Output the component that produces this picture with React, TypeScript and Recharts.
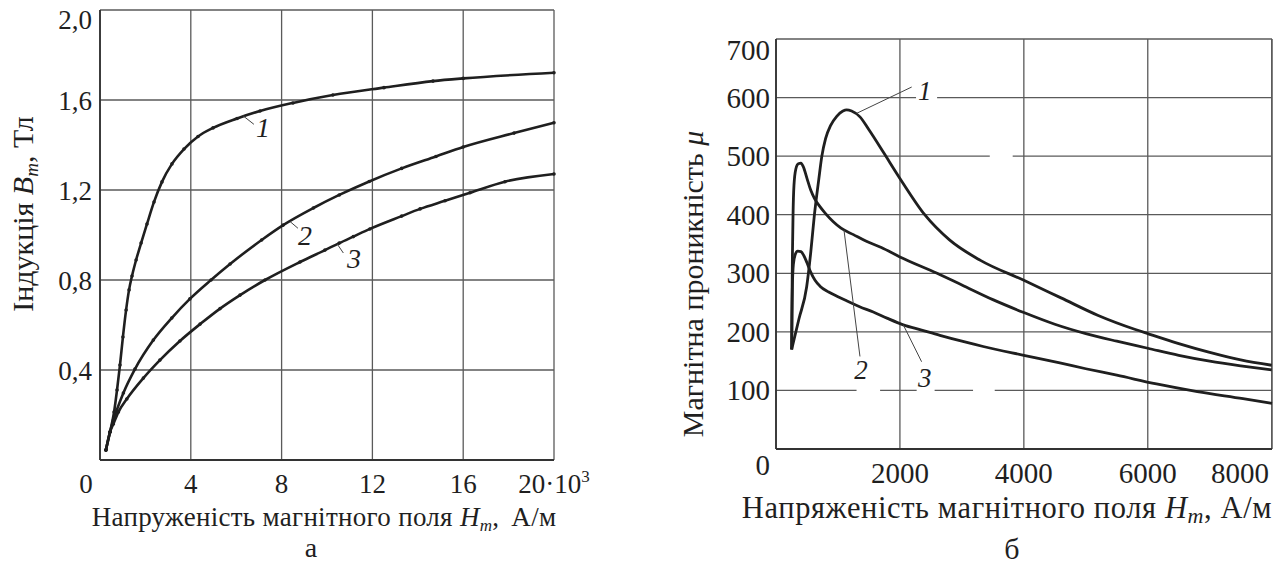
import {
  LineChart,
  Line,
  XAxis,
  YAxis,
  CartesianGrid,
  ReferenceLine,
  ReferenceArea,
  ReferenceDot,
} from "recharts";

const FONT = "Liberation Serif, DejaVu Serif, serif";
const INK = "#1f1f1f";
const GRID = "#5a5a5a";

// chart а: induction B (Тл) against field H (10^3 А/м)
const hA1 = [0.26, 0.44, 0.62, 0.75, 0.88, 1.01, 1.15, 1.28, 1.41, 1.59, 1.81, 2.07, 2.38, 2.73, 3.17, 3.7, 4.32, 4.98, 6.04, 7.05, 8.5, 10.26, 12.51, 14.67, 16.0, 20.0];
const bA1 = [0.044, 0.124, 0.213, 0.311, 0.422, 0.547, 0.667, 0.756, 0.818, 0.889, 0.964, 1.049, 1.147, 1.236, 1.316, 1.382, 1.438, 1.476, 1.518, 1.551, 1.587, 1.622, 1.655, 1.684, 1.696, 1.721];

const hA2 = [0.26, 0.44, 0.59, 0.74, 1.03, 1.54, 2.35, 3.16, 3.96, 4.89, 5.73, 7.12, 8.07, 9.4, 10.54, 11.86, 13.29, 14.8, 16.0, 18.24, 20.0];
const bA2 = [0.044, 0.124, 0.178, 0.222, 0.298, 0.404, 0.533, 0.631, 0.716, 0.8, 0.871, 0.978, 1.044, 1.12, 1.178, 1.238, 1.296, 1.349, 1.391, 1.453, 1.499];

const hA3 = [0.26, 0.44, 0.59, 0.81, 1.18, 1.91, 2.64, 3.52, 4.41, 5.29, 6.17, 7.27, 8.81, 9.91, 10.54, 11.16, 11.89, 13.29, 14.1, 15.2, 16.3, 17.84, 20.0];
const bA3 = [0.044, 0.124, 0.16, 0.213, 0.271, 0.364, 0.444, 0.529, 0.604, 0.673, 0.733, 0.8, 0.88, 0.933, 0.964, 0.993, 1.027, 1.084, 1.116, 1.152, 1.188, 1.237, 1.271];

const aXTicks = [0, 4, 8, 12, 16, 20];
const aYTicks = [0, 0.4, 0.8, 1.2, 1.6, 2.0];

// chart б: permeability μ against field H (А/м)
const hB1 = [253, 370, 495, 560, 620, 690, 740, 800, 880, 980, 1080, 1140, 1220, 1355, 1500, 1731, 2000, 2400, 2800, 3300, 4000, 4600, 5200, 5800, 6000, 6500, 7000, 7500, 8000];
const muB1 = [170, 222, 277, 335, 400, 460, 500, 530, 552, 568, 577, 579, 577, 567, 545, 507, 462, 400, 357, 322, 288, 258, 228, 204, 197, 180, 165, 152, 143];

const hB2 = [253, 258, 265, 275, 290, 320, 360, 403, 440, 500, 560, 620, 700, 800, 925, 1050, 1250, 1450, 1700, 2000, 2600, 3000, 3500, 4000, 4500, 5000, 5500, 6000, 6500, 7000, 7500, 8000];
const muB2 = [170, 250, 330, 400, 450, 478, 487, 488, 482, 462, 442, 428, 415, 402, 388, 377, 366, 355, 344, 328, 300, 280, 255, 233, 213, 197, 184, 172, 160, 150, 142, 135];

const hB3 = [253, 258, 265, 280, 310, 350, 403, 450, 500, 560, 630, 710, 850, 1000, 1140, 1350, 1570, 1800, 2054, 2350, 2645, 3000, 3344, 4000, 4581, 5000, 5500, 6140, 6800, 7538, 8005];
const muB3 = [170, 230, 280, 315, 332, 338, 337, 330, 318, 302, 288, 278, 268, 260, 253, 243, 234, 223, 212, 203, 194, 184, 175, 160, 147, 137, 126, 111, 98, 86, 78];

const bXTicks = [0, 2000, 4000, 6000, 8000];
const bYTicks = [0, 100, 200, 300, 400, 500, 600, 700];

// curve numbers with their leader lines
const aNotes = [
  { n: "1", h: 7.18, v: 1.476, from: { x: 6.3, y: 1.53 }, to: { x: 6.78, y: 1.492 } },
  { n: "2", h: 9.03, v: 1.0, from: { x: 8.37, y: 1.06 }, to: { x: 8.72, y: 1.03 } },
  { n: "3", h: 11.19, v: 0.895, from: { x: 10.45, y: 0.96 }, to: { x: 10.72, y: 0.92 } },
];
const bNotes = [
  { n: "1", h: 2400, v: 611, from: { x: 2190, y: 618 }, to: { x: 1300, y: 573 } },
  { n: "2", h: 1370, v: 135, from: { x: 1097, y: 374 }, to: { x: 1355, y: 158 } },
  { n: "3", h: 2400, v: 121, from: { x: 2054, y: 212 }, to: { x: 2350, y: 149 } },
];
// blank patches where the scan erased the grid
const bGaps = [
  { x1: 2260, x2: 2600, y1: 585, y2: 640 },
  { x1: 3450, x2: 3820, y1: 480, y2: 520 },
  { x1: 1300, x2: 1680, y1: 85, y2: 150 },
  { x1: 2270, x2: 2560, y1: 85, y2: 140 },
  { x1: 3180, x2: 3530, y1: 85, y2: 115 },
];

const zip = (hs: number[], vs: number[]) => hs.map((h, i) => ({ h, v: vs[i] }));

const txt = (size: number) => ({ style: { fontFamily: FONT }, fontSize: size, fill: INK });

const AXTick = (p: any) => {
  const v = p.payload.value;
  if (v === 20)
    return (
      <text x={p.x} y={p.y + 33} textAnchor="middle" {...txt(27)}>
        20·10<tspan fontSize={17} dy={-11}>3</tspan>
      </text>
    );
  return (
    <text x={v === 0 ? p.x - 14 : p.x} y={p.y + 33} textAnchor="middle" {...txt(27)}>
      {v}
    </text>
  );
};

const AYTick = (p: any) => {
  const v = p.payload.value;
  if (v === 0) return <g />;
  return (
    <text x={p.x - 8} y={p.y + 9.5 + (v === 2 ? 9 : 0)} textAnchor="end" {...txt(27)}>
      {v.toFixed(1).replace(".", ",")}
    </text>
  );
};

const BXTick = (p: any) => {
  const v = p.payload.value;
  if (v === 0) return <g />;
  return (
    <text x={v === 8000 ? p.x + 1 : p.x} y={p.y + 34} textAnchor={v === 8000 ? "end" : "middle"} {...txt(29)}>
      {v}
    </text>
  );
};

const BYTick = (p: any) => {
  const v = p.payload.value;
  const shift = v === 0 ? 16 : v === 700 ? 11 : 0;
  return (
    <text x={p.x - 6} y={p.y + 10 + shift} textAnchor="end" {...txt(29)}>
      {v}
    </text>
  );
};

const noteShape = (n: string, size: number) => (p: any) => (
  <text x={p.cx} y={p.cy} textAnchor="middle" dominantBaseline="central" fontStyle="italic" {...txt(size)}>
    {n}
  </text>
);

const ChartA = () => (
  <LineChart width={610} height={564} margin={{ top: 10, right: 56, bottom: 0, left: 0 }}>
    <CartesianGrid stroke={GRID} strokeWidth={1.3} />
    <XAxis
      type="number"
      dataKey="h"
      domain={[0, 20]}
      ticks={aXTicks}
      height={104}
      tickSize={0}
      tickMargin={0}
      tickLine={false}
      axisLine={{ stroke: "#333", strokeWidth: 1.8 }}
      tick={AXTick}
    />
    <YAxis
      type="number"
      domain={[0, 2]}
      ticks={aYTicks}
      width={100}
      tickSize={0}
      tickMargin={0}
      tickLine={false}
      axisLine={{ stroke: "#333", strokeWidth: 1.8 }}
      tick={AYTick}
    />
    {[zip(hA1, bA1), zip(hA2, bA2), zip(hA3, bA3)].map((d, i) => (
      <Line
        key={i}
        data={d}
        dataKey="v"
        type="monotone"
        stroke={INK}
        strokeWidth={2.6}
        dot={{ r: 1.8, fill: INK, stroke: "none" }}
        isAnimationActive={false}
      />
    ))}
    {aNotes.map((a) => (
      <ReferenceLine key={"l" + a.n} segment={[a.from, a.to]} stroke="#444" strokeWidth={1} />
    ))}
    {aNotes.map((a) => (
      <ReferenceDot key={"d" + a.n} x={a.h} y={a.v} r={0} shape={noteShape(a.n, 28)} />
    ))}
  </LineChart>
);

const ChartB = () => (
  <LineChart width={644} height={564} margin={{ top: 39, right: 12, bottom: 0, left: 0 }}>
    <CartesianGrid stroke={GRID} strokeWidth={1.3} />
    {bGaps.map((g, i) => (
      <ReferenceArea key={i} x1={g.x1} x2={g.x2} y1={g.y1} y2={g.y2} fill="#fff" fillOpacity={1} stroke="none" />
    ))}
    <XAxis
      type="number"
      dataKey="h"
      domain={[0, 8000]}
      ticks={bXTicks}
      height={115}
      tickSize={0}
      tickMargin={0}
      tickLine={false}
      axisLine={{ stroke: "#333", strokeWidth: 1.8 }}
      tick={BXTick}
    />
    <YAxis
      type="number"
      domain={[0, 700]}
      ticks={bYTicks}
      width={136}
      tickSize={0}
      tickMargin={0}
      tickLine={false}
      axisLine={{ stroke: "#333", strokeWidth: 1.8 }}
      tick={BYTick}
    />
    {[zip(hB1, muB1), zip(hB2, muB2), zip(hB3, muB3)].map((d, i) => (
      <Line key={i} data={d} dataKey="v" type="monotone" stroke={INK} strokeWidth={2.8} dot={false} isAnimationActive={false} />
    ))}
    {bNotes.map((a) => (
      <ReferenceLine key={"l" + a.n} segment={[a.from, a.to]} stroke="#444" strokeWidth={1} />
    ))}
    {bNotes.map((a) => (
      <ReferenceDot key={"d" + a.n} x={a.h} y={a.v} r={0} shape={noteShape(a.n, 27)} />
    ))}
  </LineChart>
);

export default function App() {
  return (
    <div style={{ position: "absolute", left: 0, top: 0, width: 1284, height: 564, background: "#fff" }}>
      <div style={{ position: "absolute", left: 640, top: 0 }}>
        <ChartB />
      </div>
      <div style={{ position: "absolute", left: 0, top: 0 }}>
        <ChartA />
      </div>
      <svg width={1284} height={564} style={{ position: "absolute", left: 0, top: 0, pointerEvents: "none" }}>
        <text transform="translate(33,214) rotate(-90)" textAnchor="middle" {...txt(30)}>
          Індукція{" "}
          <tspan fontStyle="italic">B</tspan>
          <tspan fontStyle="italic" fontSize={19} dy={5}>m</tspan>
          <tspan dy={-5}>, Тл</tspan>
        </text>
        <text x={324} y={526} textAnchor="middle" letterSpacing={0.3} {...txt(27)}>
          Напруженість магнітного поля{" "}
          <tspan fontStyle="italic">H</tspan>
          <tspan fontStyle="italic" fontSize={17} dy={5}>m</tspan>
          <tspan dy={-5}>,</tspan>
          <tspan dx={12}>А/м</tspan>
        </text>
        <text x={311} y={557} textAnchor="middle" {...txt(28)}>а</text>

        <text transform="translate(703,284) rotate(-90)" textAnchor="middle" {...txt(30)}>
          Магнітна проникність <tspan fontStyle="italic">μ</tspan>
        </text>
        <text x={1007} y={518} textAnchor="middle" letterSpacing={0.6} {...txt(30.5)}>
          Напряженість магнітного поля{" "}
          <tspan fontStyle="italic">H</tspan>
          <tspan fontStyle="italic" fontSize={22} dy={5}>m</tspan>
          <tspan dy={-5}>, А/м</tspan>
        </text>
        <text x={1012} y={559} textAnchor="middle" {...txt(30)}>б</text>
      </svg>
    </div>
  );
}
